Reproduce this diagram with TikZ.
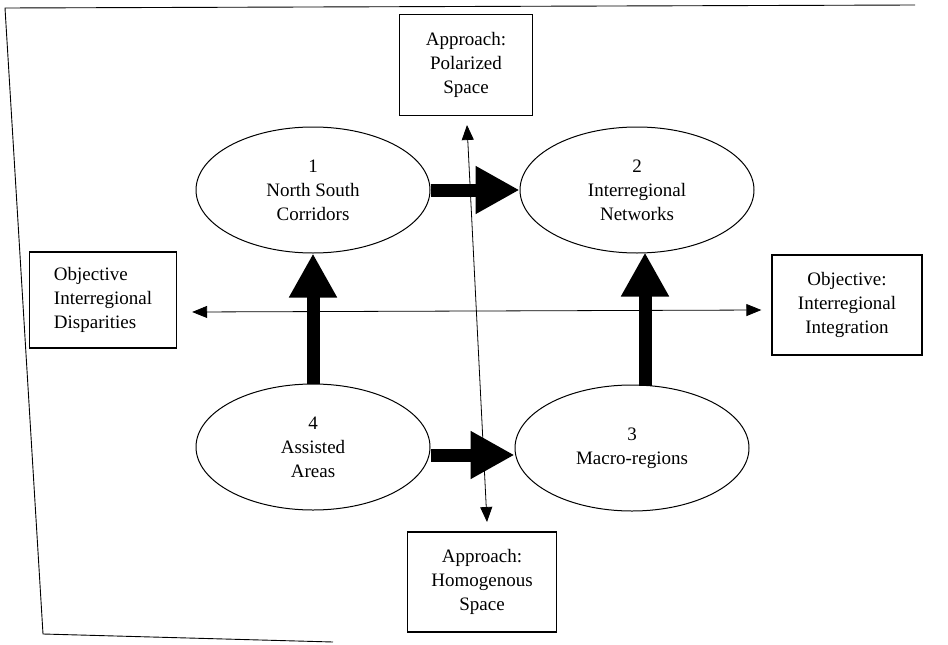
\documentclass[tikz,border=0pt]{standalone}
\usepackage{fontspec}
\setmainfont{Liberation Serif}
\usetikzlibrary{shapes.geometric,arrows.meta}
\begin{document}
\begin{tikzpicture}[x=1pt,y=-1pt,
  txt/.style={font=\fontsize{19}{24}\selectfont, align=center},
  oval/.style={draw, ellipse, line width=1pt, inner sep=0pt, minimum width=234pt, minimum height=126pt, txt},
  labelbox/.style={draw, rectangle, line width=1.3pt, inner sep=0pt, txt},
  thin arrow/.style={line width=0.8pt, {Triangle[length=15pt,width=12pt]}-{Triangle[length=15pt,width=12pt]}},
  fat arrow/.style={line width=13pt, -{Triangle[length=44pt,width=45pt]}},
  frame/.style={line width=0.9pt}]
\useasboundingbox (0,0) rectangle (948,645);
% scanned page frame
\draw[frame] (915,5) -- (5,8) -- (43,634) -- (333,642);
% ellipses
\node[oval] (e1) at (313,190) {1\\North South\\Corridors};
\node[oval] (e2) at (637,190) {2\\Interregional\\Networks};
\node[oval] (e4) at (313,447) {4\\Assisted\\Areas};
\node[oval] (e3) at (632,448) {3\\Macro-regions};
% boxes
\node[labelbox, minimum width=133pt, minimum height=101pt] (top) at (466,65) {Approach:\\Polarized\\Space};
\node[labelbox, minimum width=149pt, minimum height=100pt] (bot) at (482,582) {Approach:\\Homogenous\\Space};
\node[labelbox, minimum width=147pt, minimum height=96pt, align=left] (left) at (103,300) {Objective\\Interregional\\Disparities};
\node[labelbox, minimum width=150pt, minimum height=100pt] (right) at (847,305) {Objective:\\Interregional\\Integration};
% thin axes
\coordinate (ta) at (467,125);
\coordinate (tb) at (487,522);
\draw[thin arrow] (ta) -- (tb);
\draw[thin arrow] ([xshift=15pt,yshift=-12pt]left.east) -- ([xshift=-10pt,yshift=-5pt]right.west);
% fat arrows
\draw[fat arrow] (e1.east) -- (e2.west);
\draw[fat arrow] ([yshift=-8pt]e4.east) -- ([yshift=-7pt]e3.west);
\draw[fat arrow] (e4.north) -- (e1.south);
\draw[fat arrow] ([xshift=13pt,yshift=-1pt]e3.north) -- ([xshift=8pt,yshift=1pt]e2.south);
\end{tikzpicture}
\end{document}
